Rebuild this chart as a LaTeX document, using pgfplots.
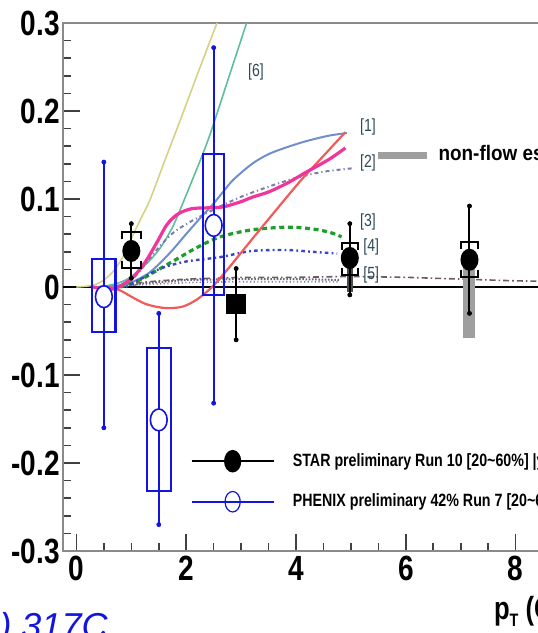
\documentclass[border=0pt]{standalone}
\usepackage{pgfplots}
\pgfplotsset{compat=1.18}
\usepackage{fontspec}
\setmainfont{Liberation Sans}
\newfontfamily\cond{Liberation Sans}[FakeStretch=0.8]
\newfontfamily\condb{Liberation Sans}[FakeStretch=0.9]
\definecolor{cyel}{HTML}{D6D285}
\definecolor{cteal}{HTML}{5FBF9C}
\definecolor{csteel}{HTML}{6F8FCB}
\definecolor{cpink}{HTML}{F0359B}
\definecolor{cred}{HTML}{F25A5A}
\definecolor{cdd}{HTML}{7C7CB0}
\definecolor{cgreen}{HTML}{1E9E2A}
\definecolor{cbdot}{HTML}{3A46C8}
\definecolor{czero}{HTML}{705868}
\definecolor{pblue}{HTML}{1414E0}
\definecolor{lbl}{HTML}{2E4A58}
\definecolor{spine}{HTML}{8A8A8A}
\begin{document}
\begin{tikzpicture}
\begin{axis}[
  at={(0pt,0pt)}, anchor=south west,
  scale only axis, width=253.9pt, height=264pt,
  xmin=-0.25, xmax=9, ymin=-0.3, ymax=0.3,
  axis line style={spine, line width=0.9pt},
  xtick={0,2,4,6,8}, minor x tick num=3,
  ytick={-0.3,-0.2,-0.1,0,0.1,0.2,0.3}, minor y tick num=4,
  tick align=inside, xtick pos=bottom, ytick pos=left,
  major tick length=8.5pt, minor tick length=4pt,
  every tick/.style={black!75, line width=0.8pt},
  tick label style={font=\cond\bfseries\fontsize{17.5}{18}\selectfont},
  /pgf/number format/assume math mode=true,
  yticklabel style={xshift=2pt},
  xticklabel style={yshift=1pt},
  clip mode=individual,
  legend style={at={(0.2508,0.1317)}, anchor=west, draw=none, fill=none,
    inner sep=0pt, font=\cond\bfseries\fontsize{8.9}{9}\selectfont,
    row sep=10pt, column sep=9pt, nodes={inner sep=0pt}},
  legend cell align=left,
  legend image code/.code={\draw[#1] (0pt,0pt) -- (41pt,0pt); \draw[#1] plot coordinates {(20.5pt,0pt)};},
]
\addlegendimage{black, line width=1pt, mark=*, mark size=3.8pt, mark options={yscale=1.35}}
\addlegendentry{STAR preliminary Run 10 [20\textasciitilde60\%] |y|<1}
\addlegendimage{pblue, line width=1.2pt, mark=o, mark size=3.8pt, mark options={yscale=1.35, line width=0.6pt}}
\addlegendentry{PHENIX preliminary 42\% Run 7 [20\textasciitilde60\%]}

% zero line
\addplot[forget plot, black, line width=0.9pt] coordinates {(-0.25,0) (9,0)};

% near-zero model curves [5]
\addplot[forget plot, gray!85!black, line width=1pt, dash pattern=on 0.8pt off 0.8pt] coordinates {(0.8,0) (1.2,0.004) (2,0.008) (3,0.009) (4,0.009) (4.8,0.008)};
\addplot[forget plot, cdd, line width=0.8pt, dash pattern=on 0.6pt off 1.2pt] coordinates {(1.0,0.002) (2,0.005) (3,0.006) (4,0.006) (4.8,0.006)};
\addplot[forget plot, czero, line width=0.8pt, dash pattern=on 3pt off 1.5pt on 0.8pt off 1.5pt] coordinates {(0.6,0) (1.0,0.004) (1.5,0.007) (2.0,0.009) (3,0.011) (4,0.011) (5,0.012) (6,0.011) (7,0.009) (8,0.007) (9,0.006)};

% yellow
\addplot[forget plot, cyel, line width=0.8pt, smooth] coordinates {(0,0) (0.3,0.002) (0.5,0.008) (0.7,0.02) (0.9,0.04) (1.03,0.059) (1.2,0.081) (1.34,0.099) (1.6,0.142) (1.9,0.191) (2.2,0.241) (2.56,0.3) (2.7,0.323)};
% teal [6]
\addplot[forget plot, cteal, line width=0.8pt, smooth] coordinates {(0.3,0) (0.6,0.002) (0.9,0.008) (1.2,0.022) (1.5,0.042) (1.75,0.068) (1.95,0.097) (2.3,0.151) (2.47,0.18) (2.8,0.243) (3.1,0.3) (3.3,0.337)};
% steel blue [1]
\addplot[forget plot, csteel, line width=1pt, smooth] coordinates {(0.5,0) (0.8,0.002) (1.03,0.006) (1.3,0.015) (1.52,0.027) (1.75,0.042) (2.01,0.061) (2.25,0.078) (2.5,0.095) (2.67,0.108) (2.86,0.122) (3.2,0.14) (3.5,0.151) (3.84,0.159) (4.2,0.166) (4.6,0.172) (4.93,0.175)};
% dash-dot [2]
\addplot[forget plot, cdd, line width=1pt, dash pattern=on 2pt off 1.5pt on 0.6pt off 1.5pt, smooth] coordinates {(0.7,0) (1.0,0.008) (1.22,0.023) (1.5,0.045) (1.77,0.062) (2.1,0.075) (2.5,0.088) (2.98,0.102) (3.5,0.114) (4.0,0.124) (4.5,0.131) (5.04,0.135)};
% green dashed [3]
\addplot[forget plot, cgreen, line width=1.6pt, dash pattern=on 2.5pt off 1.8pt, smooth] coordinates {(0.8,0) (1.0,0.004) (1.22,0.01) (1.5,0.02) (1.89,0.034) (2.2,0.045) (2.62,0.057) (3.2,0.065) (3.84,0.068) (4.3,0.066) (4.62,0.062) (4.83,0.057)};
% blue dotted [4]
\addplot[forget plot, cbdot, line width=1.2pt, dash pattern=on 0.9pt off 1.6pt on 1.8pt off 1.6pt, smooth] coordinates {(0.9,0) (1.2,0.01) (1.53,0.021) (2.0,0.029) (2.62,0.034) (3.2,0.041) (3.84,0.042) (4.3,0.04) (4.75,0.038)};
% red
\addplot[forget plot, cred, line width=1.1pt, smooth] coordinates {(0.6,0) (0.8,-0.004) (1.0,-0.011) (1.25,-0.019) (1.5,-0.023) (1.71,-0.024) (1.95,-0.022) (2.2,-0.014) (2.47,0) (2.74,0.019) (3.0,0.039) (3.3,0.062) (3.71,0.093) (4.1,0.122) (4.5,0.149) (4.9,0.176)};
% pink [2]
\addplot[forget plot, cpink, line width=1.6pt, smooth] coordinates {(0.3,0) (0.5,-0.002) (0.7,-0.002) (0.85,0.003) (1.03,0.011) (1.25,0.028) (1.46,0.05) (1.65,0.071) (1.85,0.083) (2.1,0.089) (2.4,0.09) (2.67,0.091) (3.0,0.097) (3.2,0.102) (3.5,0.108) (3.84,0.118) (4.2,0.131) (4.6,0.145) (4.9,0.158)};

% non-flow legend bar
\addplot[forget plot, gray!75, line width=3.5pt] coordinates {(5.49,0.15) (6.39,0.15)};
% non-flow estimate bars
\addplot[forget plot, gray!75, line width=6pt] coordinates {(7.16,0.031) (7.16,-0.058)};
\addplot[forget plot, gray!60!black, line width=3pt] coordinates {(4.98,0.033) (4.98,-0.006)};

% PHENIX systematic boxes
\addplot[forget plot, pblue, line width=1.1pt] coordinates {(0.29,-0.051) (0.71,-0.051) (0.71,0.032) (0.29,0.032) (0.29,-0.051) (0.71,-0.051)};
\addplot[forget plot, pblue, line width=1.1pt] coordinates {(1.28,-0.232) (1.72,-0.232) (1.72,-0.069) (1.28,-0.069) (1.28,-0.232) (1.72,-0.232)};
\addplot[forget plot, pblue, line width=1.1pt] coordinates {(2.31,-0.009) (2.69,-0.009) (2.69,0.151) (2.31,0.151) (2.31,-0.009) (2.69,-0.009)};
% PHENIX statistical error bars
\addplot[forget plot, pblue, line width=1pt, unbounded coords=jump] coordinates {
 (0.5,-0.160) (0.5,0.142) (0.5,nan)
 (1.5,-0.270) (1.5,-0.030) (1.5,nan)
 (2.5,-0.132) (2.5,0.272)};
\addplot[forget plot, pblue, only marks, mark=*, mark size=1pt] coordinates {
 (0.5,-0.160) (0.5,0.142) (1.5,-0.270) (1.5,-0.030) (2.5,-0.132) (2.5,0.272)};
% PHENIX points (open circles, white interior)
\addplot[forget plot, only marks, mark=*, mark size=4.2pt,
  mark options={yscale=1.3, fill=white, draw=pblue, line width=0.8pt}]
  coordinates {(0.5,-0.011) (1.5,-0.151) (2.5,0.070)};

% STAR systematic brackets
\addplot[forget plot, black, line width=1pt, unbounded coords=jump] coordinates {
 (0.83,0.054) (0.83,0.062) (1.17,0.062) (1.17,0.054) (1,nan)
 (0.83,0.030) (0.83,0.022) (1.17,0.022) (1.17,0.030) (1,nan)
 (4.83,0.042) (4.83,0.050) (5.13,0.050) (5.13,0.042) (5,nan)
 (4.83,0.022) (4.83,0.014) (5.13,0.014) (5.13,0.022) (5,nan)
 (7.01,0.043) (7.01,0.051) (7.31,0.051) (7.31,0.043) (7,nan)
 (7.01,0.019) (7.01,0.011) (7.31,0.011) (7.31,0.019)};
% STAR points
\addplot[forget plot, black, line width=1pt, only marks, mark=*, mark size=4pt,
  mark options={yscale=1.25},
  error bars/.cd, y dir=both, y explicit,
  error bar style={black, line width=1pt},
  error mark=*, error mark options={black, mark size=1pt}]
  table[x=x, y=y, y error plus=ep, y error minus=em] {
  x     y      ep     em
  1.0   0.041  0.031  0.031
  4.98  0.033  0.039  0.042
  7.16  0.031  0.061  0.061
};
\addplot[forget plot, black, line width=1pt, only marks, mark=square*, mark size=4.5pt,
  error bars/.cd, y dir=both, y explicit,
  error bar style={black, line width=1pt},
  error mark=*, error mark options={black, mark size=1pt}]
  table[x=x, y=y, y error plus=ep, y error minus=em] {
  x     y       ep     em
  2.91  -0.019  0.040  0.041
};

% model labels
\begin{scope}[every node/.style={font=\cond\fontsize{8.8}{9}\selectfont, text=lbl, inner sep=0pt}]
\node at (axis cs:3.27,0.244) {[6]};
\node at (axis cs:5.31,0.182) {[1]};
\node at (axis cs:5.31,0.141) {[2]};
\node at (axis cs:5.31,0.074) {[3]};
\node at (axis cs:5.37,0.045) {[4]};
\node at (axis cs:5.37,0.014) {[5]};
\end{scope}
\node[anchor=west, inner sep=0pt, font=\condb\bfseries\fontsize{10.5}{11}\selectfont] at (axis cs:6.59,0.152) {non-flow estimate};
\node[anchor=base west, inner sep=0pt, font=\cond\bfseries\fontsize{16}{16}\selectfont] at (axis cs:7.6,-0.378) {p\raisebox{-0.4ex}{\fontsize{9}{9}\selectfont T} (GeV/c)};
\end{axis}
\node[anchor=base east, inner sep=0pt, text=pblue, font=\fontsize{18}{18}\selectfont\itshape] at (22.65pt,-43.5pt) {(2013) 317C};
\pgfresetboundingbox
\path[use as bounding box] (-31.35pt,-41pt) rectangle (237.15pt,275.5pt);
\end{tikzpicture}
\end{document}
